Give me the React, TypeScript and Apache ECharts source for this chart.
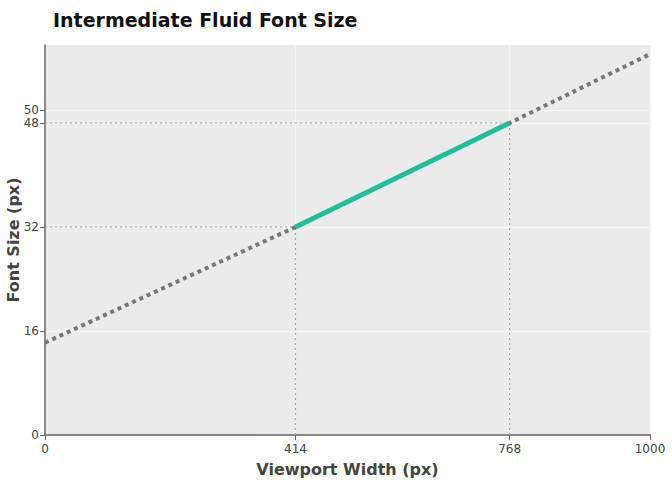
import React, { useEffect, useRef } from "react";
import * as echarts from "echarts";

// fluid font size curve
const viewportX = [0, 414, 768, 1000];
const fontSizeY = [14.2, 32, 48, 58.6];

// the clamped (intermediate) segment
const clampX = [414, 768];
const clampY = [32, 48];

const xTicks = [0, 414, 768, 1000];
const yTicks = [0, 16, 32, 48, 50];

const FONT = "'DejaVu Sans', Verdana, sans-serif";
const GUIDE = { color: "#a0a0a0", width: 1.2, type: [2, 3] as number[] };

const App: React.FC = () => {
    const ref = useRef<HTMLDivElement | null>(null);

    useEffect(() => {
        document.body.style.margin = "0";
        if (!ref.current) return;
        const inst = echarts.init(ref.current, null, { renderer: "svg" });

        const guides: any[] = [];
        clampX.forEach((x, i) => {
            const y = clampY[i];
            guides.push({
                type: "line",
                data: [[0, y], [x, y]],
                symbol: "none",
                lineStyle: GUIDE,
                z: 2,
            });
            guides.push({
                type: "line",
                data: [[x, 0], [x, y]],
                symbol: "none",
                lineStyle: GUIDE,
                z: 2,
            });
        });

        inst.setOption({
            animation: false,
            title: {
                text: "Intermediate Fluid Font Size",
                left: 48,
                top: 5,
                textStyle: { fontFamily: FONT, fontSize: 19, fontWeight: "bold", color: "#111" },
            },
            grid: {
                left: 45,
                right: 22,
                top: 45,
                bottom: 45,
                outerBoundsMode: "none",
                containLabel: false,
                show: true,
                backgroundColor: "#ebebeb",
                borderWidth: 0,
            },
            xAxis: {
                type: "value",
                min: 0,
                max: 1000,
                name: "Viewport Width (px)",
                nameLocation: "middle",
                nameGap: 26,
                nameTextStyle: { fontFamily: FONT, fontSize: 16, fontWeight: "bold", color: "#444" },
                axisLine: { show: true, lineStyle: { color: "#666", width: 1.5 } },
                axisTick: { show: true, length: 5, customValues: xTicks, lineStyle: { color: "#666" } },
                axisLabel: {
                    customValues: xTicks,
                    formatter: (v: number) => String(v),
                    fontFamily: FONT,
                    fontSize: 12,
                    color: "#444",
                    margin: 8,
                },
                splitLine: { show: true, lineStyle: { color: "#f6f6f6", width: 1 } },
            },
            yAxis: {
                type: "value",
                min: 0,
                max: 60,
                name: "Font Size (px)",
                nameLocation: "middle",
                nameGap: 24,
                nameMoveOverlap: false,
                nameTextStyle: { fontFamily: FONT, fontSize: 16, fontWeight: "bold", color: "#444" },
                axisLine: { show: true, lineStyle: { color: "#666", width: 1.5 } },
                axisTick: { show: true, length: 5, customValues: yTicks, lineStyle: { color: "#666" } },
                axisLabel: { customValues: yTicks, fontFamily: FONT, fontSize: 12, color: "#444", margin: 6 },
                splitLine: { show: true, lineStyle: { color: "#f6f6f6", width: 1 } },
            },
            series: [
                ...guides,
                {
                    type: "line",
                    data: viewportX.map((x, i) => [x, fontSizeY[i]]),
                    symbol: "none",
                    lineStyle: { color: "#777", width: 4, type: [4, 4], cap: "butt" },
                    z: 3,
                },
                {
                    type: "line",
                    data: clampX.map((x, i) => [x, clampY[i]]),
                    symbol: "none",
                    lineStyle: { color: "#1fbf9c", width: 5 },
                    z: 4,
                },
            ],
        });

        return () => inst.dispose();
    }, []);

    return <div ref={ref} style={{ width: 672, height: 480 }} />;
};

export default App;
